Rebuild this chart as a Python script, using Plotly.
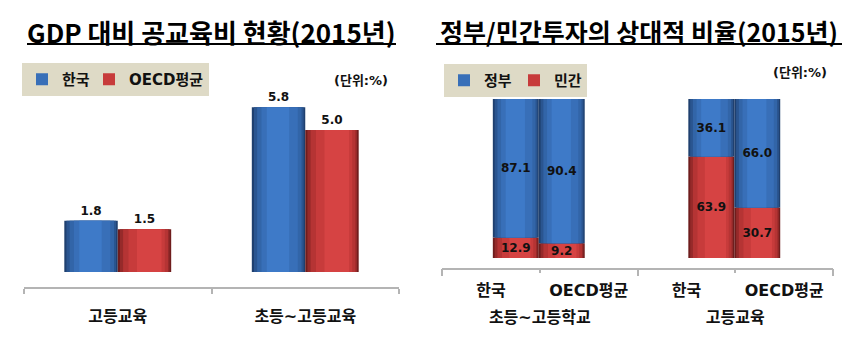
import plotly.graph_objects as go

# ---------------- data ----------------
left_title = "GDP 대비 공교육비 현황(2015년)"
left_categories = ["고등교육", "초등~고등교육"]
left_series = ["한국", "OECD평균"]
korea_gdp = [1.8, 5.8]
oecd_gdp = [1.5, 5.0]

right_title = "정부/민간투자의 상대적 비율(2015년)"
right_groups = ["초등~고등학교", "고등교육"]
right_categories = ["한국", "OECD평균", "한국", "OECD평균"]
right_series = ["정부", "민간"]
gov_share = [87.1, 90.4, 36.1, 66.0]
private_share = [12.9, 9.2, 63.9, 30.7]

unit_label = "(단위:%)"

# ---------------- style ----------------
W, H = 860, 354
FONT = "DejaVu Sans, Noto Sans CJK KR"
LEG_BG = "#dedac6"
AXIS_COL = "#b4b4b4"
TXT = "#111111"

# cylinder-like shading: (start fraction, end fraction, colour)
BLUE_LAYERS = [(0.0, 1.0, "#1f406f"), (0.04, 0.97, "#2a5590"), (0.10, 0.93, "#3265a8"),
               (0.18, 0.86, "#386fb8"), (0.28, 0.70, "#3e7ac8")]
RED_LAYERS = [(0.0, 1.0, "#6f1d1d"), (0.04, 0.97, "#962a2a"), (0.10, 0.94, "#b53434"),
              (0.20, 0.88, "#c73b3b"), (0.36, 0.82, "#d64343")]
LEGEND_LAYER = 3


def fx(px):
    return px / W


def fy(px):
    return 1 - px / H


fig = go.Figure()


def add_cylinder(x, y, base, offset, width, layers, name, text, textpos, textsize,
                 xaxis, yaxis, legend, legendrank, legendwidth=None):
    offs = offset if isinstance(offset, list) else [offset] * len(x)
    for i, (a, b, col) in enumerate(layers):
        extra = {}
        if i == LEGEND_LAYER and legendwidth:
            extra["legendwidth"] = legendwidth
        fig.add_trace(go.Bar(
            x=x, y=y, base=base, name=name, width=(b - a) * width,
            offset=[o + a * width for o in offs],
            marker=dict(color=col, line=dict(width=0)),
            showlegend=(i == LEGEND_LAYER), hoverinfo="skip",
            xaxis=xaxis, yaxis=yaxis, legend=legend, legendrank=legendrank, **extra,
        ))
    fig.add_trace(go.Bar(
        x=x, y=y, base=base, name=name, width=width, offset=offs,
        marker=dict(color="rgba(0,0,0,0)", line=dict(width=0)),
        text=text, textposition=textpos, insidetextanchor="middle", cliponaxis=False,
        textfont=dict(family=FONT, size=textsize, color=TXT, weight="bold"),
        showlegend=False, xaxis=xaxis, yaxis=yaxis, legend=legend,
    ))


# ---- left chart: side-by-side cylinders ----
lw = 0.285
add_cylinder(left_categories, korea_gdp, 0, -lw, lw, BLUE_LAYERS, left_series[0],
             [f"{v:.1f}" for v in korea_gdp], "outside", 12, "x", "y", "legend", 1, legendwidth=22)
add_cylinder(left_categories, oecd_gdp, 0, 0.0, lw, RED_LAYERS, left_series[1],
             [f"{v:.1f}" for v in oecd_gdp], "outside", 12, "x", "y", "legend", 2)

# ---- right chart: 100% stacked cylinders ----
totals = [g + p for g, p in zip(gov_share, private_share)]
priv_pct = [p / t * 100 for p, t in zip(private_share, totals)]
gov_pct = [g / t * 100 for g, t in zip(gov_share, totals)]
xpos = list(range(len(right_categories)))
bar_w = 0.47
offsets = [0.02 if i % 2 == 0 else -0.51 for i in xpos]

add_cylinder(xpos, priv_pct, [0] * len(xpos), offsets, bar_w, RED_LAYERS, right_series[1],
             [f"{v:.1f}" for v in private_share], "inside", 12, "x2", "y2", "legend2", 2)
add_cylinder(xpos, gov_pct, priv_pct, offsets, bar_w, BLUE_LAYERS, right_series[0],
             [f"{v:.1f}" for v in gov_share], "inside", 12, "x3", "y2", "legend2", 1, legendwidth=25)

tickfont = dict(family=FONT, size=16, color=TXT, weight="bold")

fig.update_layout(
    width=W, height=H, margin=dict(l=0, r=0, t=0, b=0),
    paper_bgcolor="white", plot_bgcolor="rgba(0,0,0,0)",
    barmode="overlay",
    uniformtext=dict(minsize=12, mode="show"),
    xaxis=dict(
        domain=[fx(24), fx(399)], type="category", tickson="boundaries",
        ticks="outside", ticklen=5, tickcolor=AXIS_COL, tickwidth=1.5,
        showline=True, linecolor=AXIS_COL, linewidth=2, showgrid=False,
        tickfont=tickfont, ticklabelstandoff=14, anchor="y", range=[-0.5, 1.5],
    ),
    yaxis=dict(
        domain=[fy(287), fy(95)], range=[-0.53, 6.23], visible=False, anchor="x",
    ),
    xaxis2=dict(
        domain=[fx(442), fx(833)], range=[-0.5, 3.5], anchor="y2",
        tickmode="array", tickvals=xpos, ticktext=right_categories, ticks="",
        minor=dict(tickmode="array", tickvals=[0.5, 2.5], ticks="outside", ticklen=3,
                   tickcolor=AXIS_COL, tickwidth=1.5, showgrid=False),
        showline=True, linecolor=AXIS_COL, linewidth=2, showgrid=False, zeroline=False,
        tickfont=tickfont, ticklabelstandoff=7,
    ),
    xaxis3=dict(
        domain=[fx(442), fx(833)], range=[-0.5, 3.5], anchor="y2", overlaying="x2", side="bottom",
        tickmode="array", tickvals=[0.5, 2.5], ticktext=right_groups, ticks="",
        minor=dict(tickmode="array", tickvals=[-0.5, 1.5, 3.5], ticks="outside", ticklen=7,
                   tickcolor=AXIS_COL, tickwidth=1.5, showgrid=False),
        showline=False, showgrid=False, zeroline=False,
        tickfont=tickfont, ticklabelstandoff=38,
    ),
    yaxis2=dict(
        domain=[fy(268), fy(95)], range=[-6.3, 102.5], visible=False, anchor="x2",
    ),
    legend=dict(
        orientation="h", x=fx(22), y=fy(63), xanchor="left", yanchor="top",
        bgcolor=LEG_BG, font=dict(family=FONT, size=15, color=TXT, weight="bold"),
        itemwidth=30, traceorder="normal",
    ),
    legend2=dict(
        orientation="h", x=fx(444), y=fy(64), xanchor="left", yanchor="top",
        bgcolor=LEG_BG, font=dict(family=FONT, size=15, color=TXT, weight="bold"),
        itemwidth=30, traceorder="normal",
    ),
    annotations=[
        dict(text=left_title, x=fx(211), y=fy(31), xref="paper", yref="paper",
             xanchor="center", yanchor="middle", showarrow=False,
             font=dict(family="Noto Sans CJK KR", size=26, color="#000", weight="bold")),
        dict(text=right_title, x=fx(639), y=fy(31), xref="paper", yref="paper",
             xanchor="center", yanchor="middle", showarrow=False,
             font=dict(family="Noto Sans CJK KR", size=25, color="#000", weight="bold")),
        dict(text=unit_label, x=fx(361), y=fy(80), xref="paper", yref="paper", showarrow=False,
             xanchor="center", yanchor="middle", font=dict(family=FONT, size=13, color=TXT, weight="bold")),
        dict(text=unit_label, x=fx(800), y=fy(72), xref="paper", yref="paper", showarrow=False,
             xanchor="center", yanchor="middle", font=dict(family=FONT, size=13, color=TXT, weight="bold")),
    ],
    shapes=[
        dict(type="line", xref="paper", yref="paper", x0=fx(27), x1=fx(396), y0=fy(44), y1=fy(44),
             line=dict(color="#000", width=2)),
        dict(type="line", xref="paper", yref="paper", x0=fx(436), x1=fx(842), y0=fy(44), y1=fy(44),
             line=dict(color="#000", width=2)),
    ],
)

fig.write_html("out.html")
